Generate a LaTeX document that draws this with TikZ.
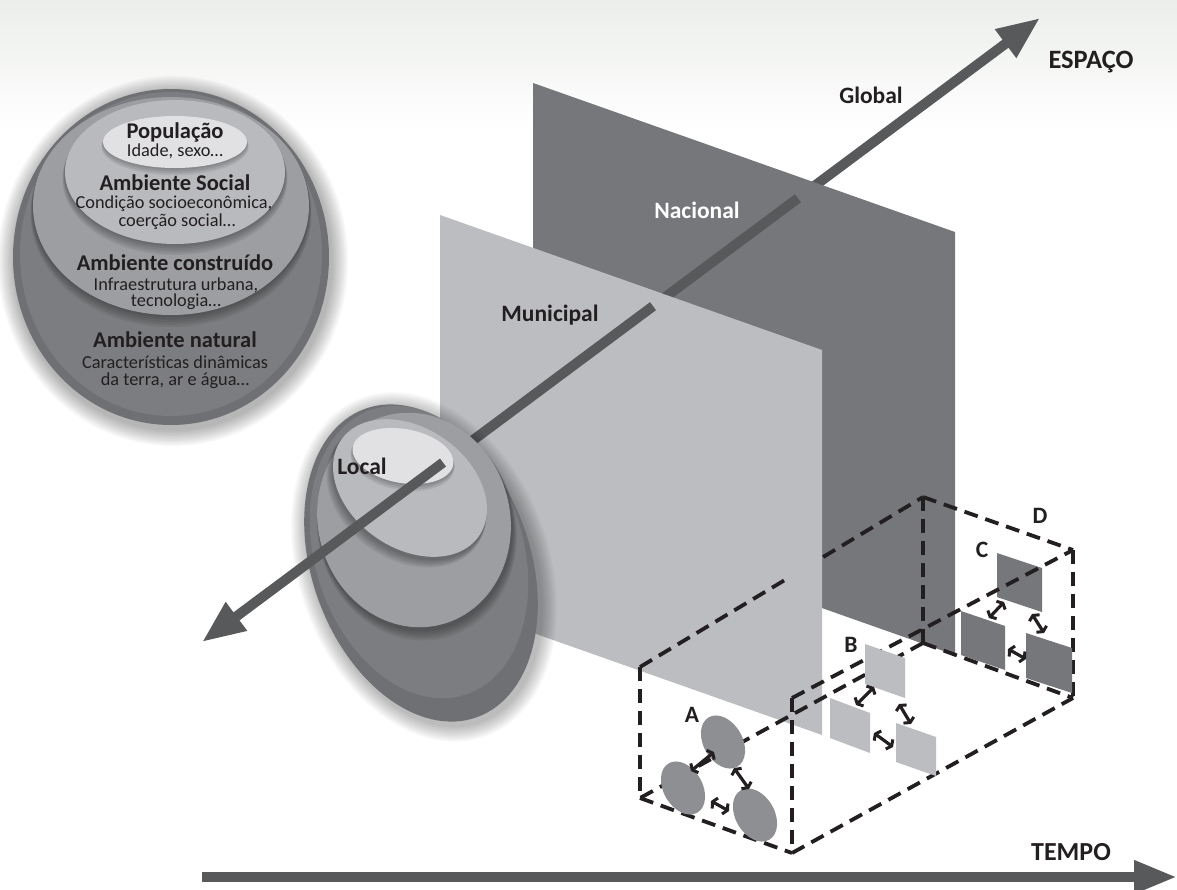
\documentclass[tikz,border=0pt]{standalone}
\usepackage{fontspec}
\setmainfont{Carlito}
\usetikzlibrary{arrows.meta,calc}
\definecolor{darkpanel}{HTML}{76777B}
\definecolor{lightpanel}{HTML}{BCBDC0}
\definecolor{axiscol}{HTML}{58595B}
\definecolor{ink}{HTML}{231F20}
\definecolor{ellA}{HTML}{8E8F92}
\definecolor{layA}{HTML}{6F7073}
\definecolor{layB}{HTML}{7C7D80}
\definecolor{layC}{HTML}{9D9EA1}
\definecolor{layD}{HTML}{B9BABD}
\definecolor{layE}{HTML}{E1E1E3}
\definecolor{topbg}{HTML}{EBEEEA}
\begin{document}
\begin{tikzpicture}[x=1pt,y=-1pt,
  axisline/.style={line width=10pt, draw=axiscol},
  axishead/.style={-{Triangle[length=43pt,width=33pt]}},
  boxedge/.style={draw=ink, line width=3.8pt, dash pattern=on 14pt off 8pt},
  relarrow/.style={draw=ink, line width=3.2pt, {Straight Barb[length=3pt,width=12pt,line width=3pt]}-{Straight Barb[length=3pt,width=12pt,line width=3pt]}},
  lbl/.style={font=\fontsize{23.5}{26}\selectfont\bfseries, text=ink, inner sep=0pt},
  ttl/.style={font=\fontsize{22.5}{24}\selectfont\bfseries, text=ink, inner sep=0pt},
  sub/.style={font=\fontsize{18.3}{20}\selectfont, text=ink, inner sep=0pt},
  glow/.style={fill=black, opacity=0.03},
  shad/.style={fill=black, opacity=0.07},
]
\useasboundingbox (0,0) rectangle (1177,889);
\fill[white] (0,0) rectangle (1177,889);
\shade[top color=topbg, bottom color=white] (0,0) rectangle (1177,130);

% axis coordinates
\coordinate (ax0) at (202,642);
\coordinate (ax1) at (1040,18);
\coordinate (p0) at ($(ax0)!0.2876!(ax1)$);
\coordinate (p1) at ($(ax0)!0.5382!(ax1)$);
\coordinate (p2) at ($(ax0)!0.7112!(ax1)$);

% far segment
\draw[axisline, axishead] (p2) -- (ax1);
% Nacional panel
\fill[darkpanel] (533,83) -- (955,232) -- (955,655) -- (533,506) -- cycle;
\draw[axisline] (p1) -- (p2);
% Municipal panel
\fill[lightpanel] (440,215) -- (822,350) -- (822,735) -- (440,600) -- cycle;
\draw[axisline] (p0) -- (p1);

\node[lbl] (global) at (871,95) {Global};
\node[lbl, text=white] (nacional) at (697,210) {Nacional};
\node[lbl] (municipal) at (550,315) {Municipal};

% Local ellipse group
\foreach \i in {1,...,9}
  \fill[glow, rotate around={20:(424,567)}] (424,567) ellipse [x radius=109+1.8*\i, y radius=164+1.8*\i];
\fill[layA, rotate around={20:(421,563)}] (421,563) ellipse [x radius=109, y radius=164];
\fill[layB, rotate around={18:(419,552)}] (419,552) ellipse [x radius=104, y radius=150];
\foreach \i in {1,...,5}
  \fill[shad, rotate around={15:(415,522)}] (415,{522+1.4*\i}) ellipse [x radius=96+0.6*\i, y radius=108+0.9*\i];
\fill[layC, rotate around={15:(414,520)}] (414,520) ellipse [x radius=96, y radius=108];
\foreach \i in {1,...,5}
  \fill[shad, rotate around={-35:(410,490)}] (410,{490+1.3*\i}) ellipse [x radius=84+0.5*\i, y radius=60+0.8*\i];
\fill[layD, rotate around={-35:(410,488)}] (410,488) ellipse [x radius=84, y radius=60];
\foreach \i in {1,...,4}
  \fill[shad, rotate around={-10:(403,458)}] (403,{456+1.2*\i}) ellipse [x radius=51+0.4*\i, y radius=27+0.6*\i];
\fill[layE, rotate around={-10:(403,456)}] (403,456) ellipse [x radius=51, y radius=27];
\draw[axisline, axishead] (p0) -- (ax0);
\node[lbl] (local) at (362,466) {Local};

% Big ellipse group
\foreach \i in {1,...,10}
  \fill[glow] (173,261) ellipse [x radius=158+1.7*\i, y radius=168+1.7*\i];
\fill[layA] (171,257) ellipse [x radius=158, y radius=168];
\fill[layB] (171,254) ellipse [x radius=151, y radius=162];
\foreach \i in {1,...,5}
  \fill[shad] (171,{206+1.5*\i}) ellipse [x radius=138+0.5*\i, y radius=109+0.9*\i];
\fill[layC] (171,206) ellipse [x radius=138, y radius=109];
\foreach \i in {1,...,5}
  \fill[shad] (175,{172+1.4*\i}) ellipse [x radius=110+0.5*\i, y radius=72+0.8*\i];
\fill[layD] (175,172) ellipse [x radius=110, y radius=72];
\foreach \i in {1,...,4}
  \fill[shad] (175,{142+1.2*\i}) ellipse [x radius=72+0.4*\i, y radius=26+0.6*\i];
\fill[layE] (175,142) ellipse [x radius=72, y radius=26];

\node[ttl] (t1) at (175,132) {População};
\node[sub] (t2) at (175,151) {Idade, sexo…};
\node[ttl] (t3) at (175,183) {Ambiente Social};
\node[sub] (t4) at (174,204) {Condição socioeconômica,};
\node[sub] (t5) at (177,222) {coerção social…};
\node[ttl] (t6) at (175,263) {Ambiente construído};
\node[sub] (t7) at (176,285) {Infraestrutura urbana,};
\node[sub] (t8) at (176,302) {tecnologia…};
\node[ttl] (t9) at (175,340) {Ambiente natural};
\node[sub] (t10) at (175,362) {Características dinâmicas};
\node[sub] (t11) at (175,381) {da terra, ar e água…};

% dashed box
\coordinate (T1) at (640,667);
\coordinate (T2) at (792,698);
\coordinate (T3) at (1073,550);
\coordinate (T4) at (923,497);
\coordinate (B1) at (640,798);
\coordinate (B2) at (792,853);
\coordinate (B3) at (1073,698);
\coordinate (B4) at (923,643);
\coordinate (X1) at ($(T1)!0.52!(T4)$);
\coordinate (X2) at ($(T1)!0.647!(T4)$);
\draw[boxedge] (T1) -- (B1);
\draw[boxedge] (T2) -- (B2);
\draw[boxedge] (T3) -- (B3);
\draw[boxedge] (T4) -- (B4);
\draw[boxedge] (B1) -- (B2);
\draw[boxedge] (B2) -- (B3);
\draw[boxedge] (B4) -- (B3);
\draw[boxedge] (B4) -- (B1);
\draw[boxedge] (T4) -- (T3);
\draw[boxedge] (T1) -- (X1);
\draw[boxedge] (X2) -- (T4);

% C squares
\fill[darkpanel] (997,553) -- (1042,568) -- (1042,612) -- (997,597) -- cycle;
\draw[boxedge] (T2) -- (T3);
\fill[darkpanel] (961,611) -- (1005,626) -- (1005,670) -- (961,655) -- cycle;
\fill[darkpanel] (1026,633) -- (1072,648) -- (1072,693) -- (1026,678) -- cycle;
% B squares
\fill[lightpanel] (865,644) -- (905,658) -- (905,698) -- (865,684) -- cycle;
\fill[lightpanel] (830,698) -- (870,713) -- (870,753) -- (830,738) -- cycle;
\fill[lightpanel] (896,723) -- (936,737) -- (936,776) -- (896,762) -- cycle;
% A ellipses
\fill[ellA, rotate around={30:(723,742)}] (723,742) ellipse [x radius=19.5, y radius=28.5];
\fill[ellA, rotate around={30:(683,788)}] (683,788) ellipse [x radius=19.5, y radius=28.5];
\fill[ellA, rotate around={30:(755,815)}] (755,815) ellipse [x radius=19.5, y radius=28.5];

% relation arrows
\coordinate (a1s) at (691,771); \coordinate (a1e) at (714,752);
\coordinate (a2s) at (734,768); \coordinate (a2e) at (749,789);
\coordinate (a3s) at (711,801); \coordinate (a3e) at (729,811);
\draw[relarrow] (a1s) -- (a1e);
\draw[relarrow] (a2s) -- (a2e);
\draw[relarrow] (a3s) -- (a3e);
\coordinate (b1s) at (856,705); \coordinate (b1e) at (874,687);
\coordinate (b2s) at (899,704); \coordinate (b2e) at (911,724);
\coordinate (b3s) at (874,733); \coordinate (b3e) at (893,747);
\draw[relarrow] (b1s) -- (b1e);
\draw[relarrow] (b2s) -- (b2e);
\draw[relarrow] (b3s) -- (b3e);
\coordinate (c1s) at (989,618); \coordinate (c1e) at (1004,602);
\coordinate (c2s) at (1032,614); \coordinate (c2e) at (1044,633);
\coordinate (c3s) at (1008,649); \coordinate (c3e) at (1026,659);
\draw[relarrow] (c1s) -- (c1e);
\draw[relarrow] (c2s) -- (c2e);
\draw[relarrow] (c3s) -- (c3e);

\node[lbl] (la) at (692,715) {A};
\node[lbl] (lb) at (851,645) {B};
\node[lbl] (lc) at (982,550) {C};
\node[lbl] (ld) at (1040,516) {D};

% time axis
\coordinate (tm0) at (202,877);
\coordinate (tm1) at (1177,877);
\draw[axisline, -{Triangle[length=43pt,width=31pt]}] (tm0) -- (tm1);
\node[font=\fontsize{26}{28}\selectfont\bfseries, text=ink, inner sep=0pt] (tempo) at (1071,852) {TEMPO};
\node[font=\fontsize{26.5}{28}\selectfont\bfseries, text=ink, inner sep=0pt] (espaco) at (1091,62) {ESPAÇO};
\end{tikzpicture}
\end{document}
